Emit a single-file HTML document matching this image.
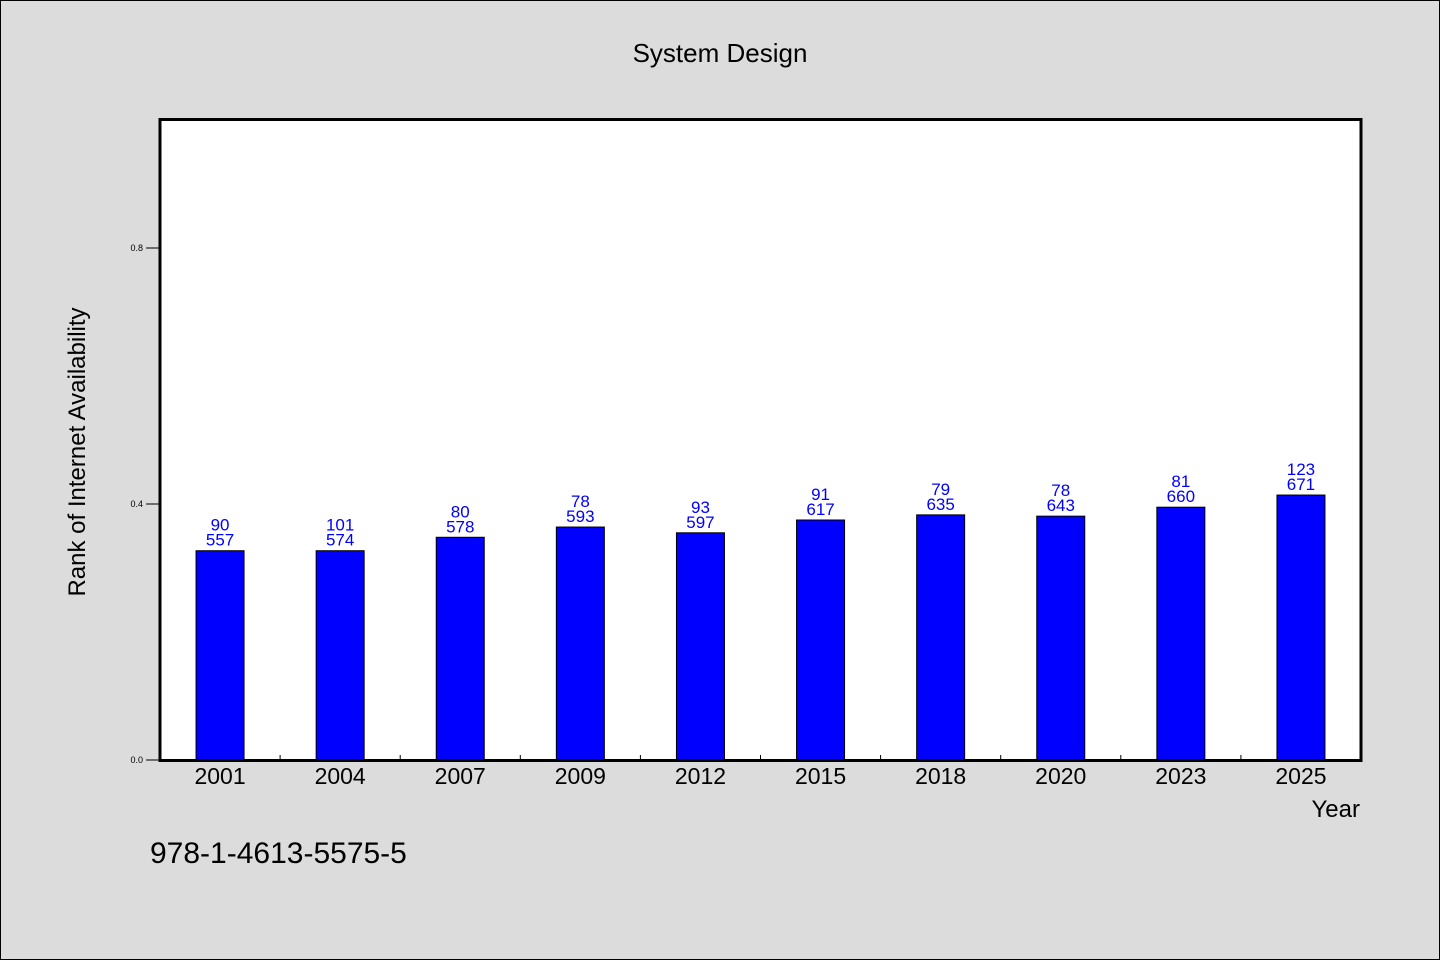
<!DOCTYPE html>
<html><head><meta charset="utf-8"><style>
html,body{margin:0;padding:0;background:#dcdcdc;}
svg{display:block;}
text{font-family:"Liberation Sans","WenQuanYi Zen Hei",sans-serif;}
</style></head><body>
<svg id="chart" width="1440" height="960" xmlns="http://www.w3.org/2000/svg">
<rect x="0.5" y="0.5" width="1439" height="959" fill="#dcdcdc" stroke="#000"/>
<text x="720" y="62" text-anchor="middle" font-size="26" font-family="WenQuanYi Zen Hei, monospace">System Design</text>
<rect x="160" y="119.5" width="1201" height="641" fill="#fff"/>
<g id="bars"></g>
<g id="axes"></g>
<text x="1360" y="817" text-anchor="end" font-size="24" font-family="WenQuanYi Zen Hei, monospace">Year</text>
<text transform="translate(85,452) rotate(-90)" text-anchor="middle" font-size="24" font-family="WenQuanYi Zen Hei, monospace">Rank of Internet Availability</text>
<text x="150" y="863" font-size="30">978-1-4613-5575-5</text>
</svg>
<script>
const categories=["2001","2004","2007","2009","2012","2015","2018","2020","2023","2025"];
const values=[0.327,0.327,0.348,0.364,0.355,0.375,0.383,0.381,0.395,0.414];
const topLabels=["90","101","80","78","93","91","79","78","81","123"];
const bottomLabels=["557","574","578","593","597","617","635","643","660","671"];
const yTicks=[0.0,0.4,0.8];
const yTickLabels=["0.0","0.4","0.8"];
const NS="http://www.w3.org/2000/svg";
const X0=160,X1=1361,Y0=760,Y1=120,YMAX=1.0;
const step=(X1-X0)/categories.length;
const xc=i=>X0+step*(i+0.5);
const y=v=>Y0-(v/YMAX)*(Y0-Y1);
function mk(tag,attrs,parent,txt){const e=document.createElementNS(NS,tag);for(const k in attrs)e.setAttribute(k,attrs[k]);if(txt!==undefined)e.textContent=txt;parent.appendChild(e);return e;}
const bars=document.getElementById('bars'),axes=document.getElementById('axes');
categories.forEach((c,i)=>{
  const r=mk('rect',{x:xc(i)-24,y:y(values[i]),width:48,height:Y0-y(values[i]),fill:'#0000ff',stroke:'#000','stroke-width':1},bars);
  
  
  const t1=mk('text',{x:xc(i),y:y(values[i])-20,'text-anchor':'middle','font-size':17,fill:'#0000ff'},bars,topLabels[i]);
  
  
  const t2=mk('text',{x:xc(i),y:y(values[i])-5,'text-anchor':'middle','font-size':17,fill:'#0000ff'},bars,bottomLabels[i]);
  
  
  const xl=mk('text',{x:xc(i),y:784,'text-anchor':'middle','font-size':23,fill:'#000'},axes,c);
  
  
  if(i>0){const tk=mk('line',{x1:X0+step*i,x2:X0+step*i,y1:Y0,y2:Y0-5,stroke:'#000','stroke-width':1},axes);
  
  }
});
yTicks.forEach((v,i)=>{
  const tk=mk('line',{x1:146,x2:X0,y1:y(v),y2:y(v),stroke:'#000','stroke-width':1},axes);
  
  
  const tl=mk('text',{x:143,y:y(v)+3,'text-anchor':'end','font-size':9,fill:'#000'},axes,yTickLabels[i]);
  
  
});
const fr=mk('rect',{x:160,y:119.5,width:1201,height:641,fill:'none',stroke:'#000','stroke-width':3},axes);


</script>
</body></html>
